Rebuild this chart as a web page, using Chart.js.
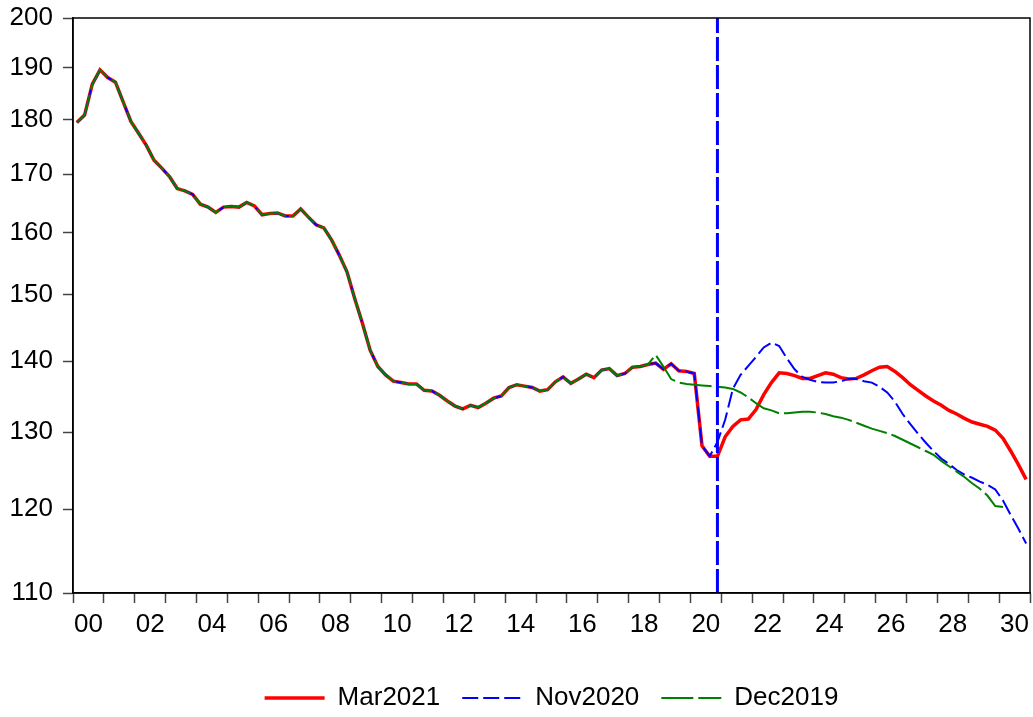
<!DOCTYPE html>
<html>
<head>
<meta charset="utf-8">
<script src="https://cdn.jsdelivr.net/npm/chart.js@4.4.1/dist/chart.umd.min.js"></script>
<style>
  html, body { margin: 0; padding: 0; background: #fff; }
  #wrap { width: 1033px; height: 717px; }
</style>
</head>
<body>
<div id="wrap"><canvas id="chart"></canvas></div>
<script>
// quarterly index, first point is 2000Q1
const startYear = 2000;

// 2000Q1 - 2018Q3, same in every vintage
const history = [
  179.4, 180.8, 186.7, 189.5, 188.0, 187.1, 183.3, 179.6, 177.4, 175.2,
  172.5, 171.1, 169.6, 167.5, 167.1, 166.5, 164.8, 164.3, 163.4, 164.3,
  164.4, 164.3, 165.1, 164.5, 163.0, 163.2, 163.3, 162.8, 162.8, 164.0,
  162.6, 161.3, 160.8, 158.8, 156.3, 153.6, 149.4, 145.6, 141.6, 139.2,
  138.0, 137.1, 136.9, 136.7, 136.7, 135.8, 135.7, 135.1, 134.3, 133.6,
  133.2, 133.7, 133.4, 134.0, 134.7, 135.0, 136.2, 136.6, 136.4, 136.2,
  135.7, 135.9, 137.0, 137.7, 136.8, 137.4, 138.1, 137.6, 138.7, 138.9,
  137.9, 138.2, 139.1, 139.2, 139.5
];
// 2018Q4 - 2020Q3, actuals in the two later vintages
const recent = [139.7, 138.8, 139.6, 138.6, 138.5, 138.2, 128.2, 126.8];

// 2020Q4 - 2030Q4
const mar2021 = [
  126.8, 129.4, 130.8, 131.7, 131.8, 133.1, 135.2, 136.9, 138.3, 138.2,
  137.9, 137.5, 137.5, 137.9, 138.3, 138.1, 137.6, 137.4, 137.5, 138.0,
  138.6, 139.1, 139.2, 138.5, 137.6, 136.6, 135.8, 135.0, 134.3, 133.7,
  133.0, 132.5, 131.9, 131.4, 131.1, 130.8, 130.3, 129.2, 127.5, 125.7,
  123.8
];
// 2020Q4 - 2030Q4
const nov2020 = [
  128.7, 131.7, 136.0, 138.0, 139.3, 140.6, 142.0, 142.7, 142.2, 140.4,
  138.8, 137.7, 137.3, 137.0, 136.9, 136.9, 137.1, 137.4, 137.4, 137.1,
  136.9, 136.3, 135.5, 134.2, 132.5, 131.1, 129.8, 128.6, 127.5, 126.5,
  125.8, 125.0, 124.4, 124.0, 123.5, 123.1, 122.5, 121.1, 119.3, 117.6,
  115.8
];
// 2018Q4 - 2030Q1
const dec2019 = [
  140.9, 139.2, 137.4, 136.9, 136.7, 136.6, 136.5, 136.4, 136.3, 136.2,
  136.0, 135.5, 134.8, 134.0, 133.3, 133.0, 132.6, 132.6, 132.7, 132.8,
  132.8, 132.7, 132.5, 132.2, 132.0, 131.7, 131.3, 130.9, 130.5, 130.2,
  129.9, 129.5, 129.0, 128.5, 128.0, 127.5, 127.0, 126.2, 125.5, 124.8,
  124.1, 123.3, 122.6, 121.7, 120.4, 120.3
];

const seriesNames = ['Mar2021', 'Nov2020', 'Dec2019'];
const yearLabels = ['00', '02', '04', '06', '08', '10', '12', '14', '16',
  '18', '20', '22', '24', '26', '28', '30'];
const yTicks = [110, 120, 130, 140, 150, 160, 170, 180, 190, 200];
const markerQuarter = 83; // 2020Q4

// quarter index -> position on the year axis (middle of the quarter)
function toPoints(values) {
  return values.map((v, i) => ({ x: startYear + (i + 0.5) / 4, y: v }));
}

const markerX = startYear + (markerQuarter + 0.5) / 4;

// draws the box round the plot
const frame = {
  id: 'frame',
  afterDraw(chart) {
    const a = chart.chartArea;
    const ctx = chart.ctx;
    ctx.save();
    ctx.strokeStyle = '#000';
    ctx.lineWidth = 1.5;
    ctx.strokeRect(a.left, a.top, a.right - a.left, a.bottom - a.top);
    ctx.restore();
  }
};

Chart.defaults.font.family = 'Arial, "Liberation Sans", sans-serif';
Chart.defaults.color = '#000';

new Chart(document.getElementById('chart'), {
  type: 'line',
  data: {
    datasets: [
      {
        label: seriesNames[0],
        data: toPoints(history.concat(recent, mar2021)),
        borderColor: '#ff0000',
        backgroundColor: '#ff0000',
        borderWidth: 3.5,
        order: 3
      },
      {
        label: seriesNames[1],
        data: toPoints(history.concat(recent, nov2020)),
        borderColor: '#0000ff',
        backgroundColor: '#0000ff',
        borderWidth: 2,
        borderDash: [16, 5],
        order: 2
      },
      {
        label: seriesNames[2],
        data: toPoints(history.concat(dec2019)),
        borderColor: '#008000',
        backgroundColor: '#008000',
        borderWidth: 2,
        borderDash: [32, 5],
        order: 1
      },
      {
        label: 'marker',
        data: [{ x: markerX, y: yTicks[0] }, { x: markerX, y: yTicks[yTicks.length - 1] }],
        borderColor: '#0000ff',
        borderWidth: 3,
        borderDash: [24, 4],
        order: 0
      }
    ]
  },
  options: {
    responsive: true,
    maintainAspectRatio: false,
    animation: false,
    layout: { padding: { top: 18, right: 3, bottom: -4, left: 0 } },
    elements: {
      point: { radius: 0, hoverRadius: 0 },
      line: { tension: 0, fill: false }
    },
    scales: {
      x: {
        type: 'linear',
        min: 2000,
        max: 2031,
        afterFit: s => { s.height = 70; s.paddingLeft = 0; s.paddingRight = 0; },
        border: { color: '#000', width: 1.5 },
        grid: {
          drawOnChartArea: false,
          tickLength: 10,
          tickWidth: 1.5,
          tickColor: c => (c.tick && Number.isInteger(c.tick.value)) ? '#444' : 'rgba(0,0,0,0)'
        },
        ticks: {
          stepSize: 0.5,
          autoSkip: false,
          maxRotation: 0,
          padding: 6,
          font: { size: 26 },
          callback: v => {
            if (Math.abs(v % 1 - 0.5) > 1e-6) return '';
            const yr = Math.floor(v) - startYear;
            return yr % 2 === 0 ? yearLabels[yr / 2] : '';
          }
        }
      },
      y: {
        type: 'logarithmic',
        min: 110,
        max: 200,
        afterBuildTicks: s => { s.ticks = yTicks.map(v => ({ value: v })); },
        afterFit: s => { s.width = 73; s.paddingTop = 0; s.paddingBottom = 0; },
        border: { color: '#000', width: 1.5 },
        grid: { drawOnChartArea: false, tickLength: 10, tickWidth: 1.5, tickColor: '#444' },
        ticks: {
          padding: 10,
          font: { size: 26 },
          callback: v => String(v)
        }
      }
    },
    plugins: {
      tooltip: { enabled: false },
      legend: {
        position: 'bottom',
        fullSize: false,
        labels: {
          usePointStyle: true,
          pointStyle: 'line',
          pointStyleWidth: 60,
          padding: 22,
          font: { size: 26 },
          filter: item => item.datasetIndex < 3,
          sort: (a, b) => a.datasetIndex - b.datasetIndex,
          generateLabels: chart => {
            const items = Chart.defaults.plugins.legend.labels.generateLabels(chart);
            items.forEach(it => {
              const ds = chart.data.datasets[it.datasetIndex];
              it.lineDash = ds.borderDash || [];
              it.lineWidth = ds.borderWidth;
              it.strokeStyle = ds.borderColor;
            });
            return items;
          }
        }
      }
    }
  },
  plugins: [frame]
});
</script>
</body>
</html>
